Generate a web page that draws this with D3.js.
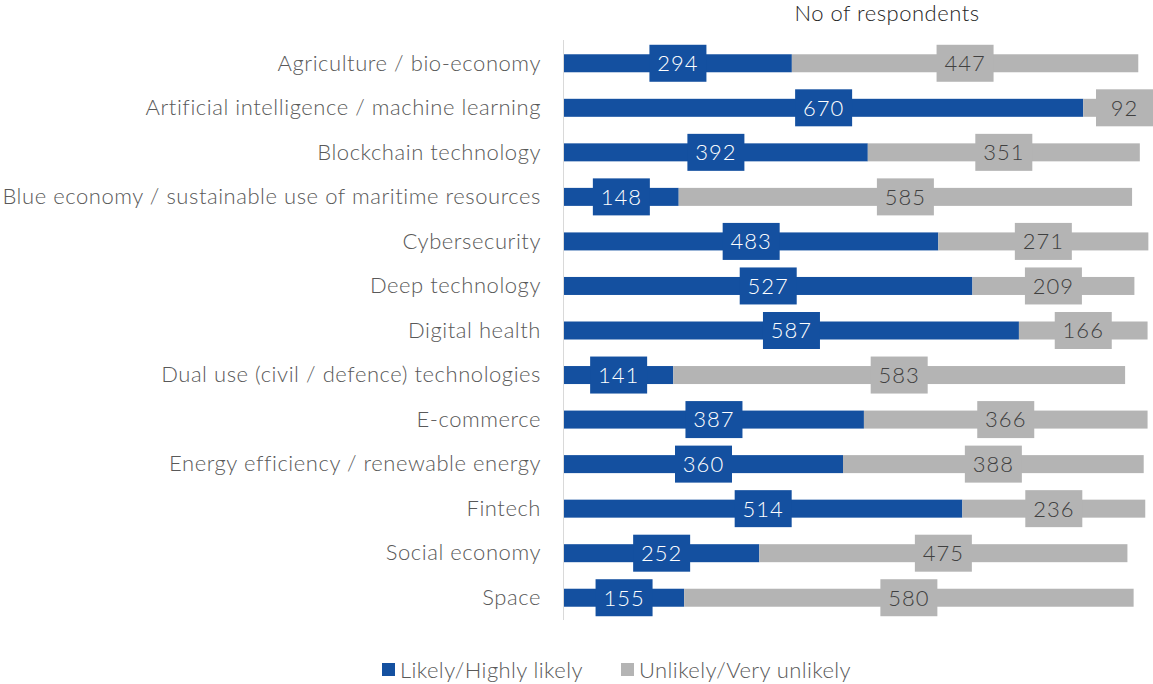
<!DOCTYPE html>
<html><head><meta charset="utf-8">
<script src="https://cdn.jsdelivr.net/npm/d3@7"></script>
<style>body{margin:0;background:#fff;} text{font-family:"Lato",sans-serif;font-weight:300;}</style>
</head><body><svg id="c" width="1153" height="684"></svg>
<script>
const categories = ["Agriculture / bio-economy","Artificial intelligence / machine learning","Blockchain technology","Blue economy / sustainable use of maritime resources","Cybersecurity","Deep technology","Digital health","Dual use (civil / defence) technologies","E-commerce","Energy efficiency / renewable energy","Fintech","Social economy","Space"];
const likely = [294,670,392,148,483,527,587,141,387,360,514,252,155];
const unlikely = [447,92,351,585,271,209,166,583,366,388,236,475,580];
const seriesNames = ["Likely/Highly likely","Unlikely/Very unlikely"];
const colors = ["#1450a0","#b4b4b4"];
const labelColors = ["#ffffff","#404040"];

const svg = d3.select("#c");
const x = d3.scaleLinear().domain([0,760]).range([564,1153]);
const y = d3.scaleBand().domain(categories).range([41,620]).paddingInner(0.6).paddingOuter(0.3);

svg.append("line").attr("x1",563.5).attr("x2",563.5).attr("y1",40).attr("y2",620).attr("stroke","#d9d9d9").attr("stroke-width",1);

const rows = categories.map((c,i)=>({c, segs:[{s:0,x0:0,x1:likely[i],v:likely[i]},{s:1,x0:likely[i],x1:likely[i]+unlikely[i],v:unlikely[i]}]}));
const g = svg.selectAll("g.row").data(rows).join("g").attr("class","row");
const bh = 18;
g.each(function(r){
  const gg = d3.select(this);
  const cy = y(r.c)+y.bandwidth()/2;
  r.segs.forEach(s=>{
    gg.append("rect").attr("x",x(s.x0)).attr("y",cy-bh/2).attr("width",x(s.x1)-x(s.x0)).attr("height",bh).attr("fill",colors[s.s]);
  });
  r.segs.forEach(s=>{
    let mx = (x(s.x0)+x(s.x1))/2;
    if (x(s.x1) > 1153) mx = 1153-28.5;
    gg.append("rect").attr("x",mx-28.5).attr("y",cy-18.5).attr("width",57).attr("height",37).attr("fill",colors[s.s]);
    gg.append("text").attr("x",mx).attr("y",cy).attr("dy","0.36em").attr("text-anchor","middle")
      .attr("font-size",22).attr("letter-spacing",1).attr("fill",labelColors[s.s]).text(s.v);
  });
  gg.append("text").attr("x",541).attr("y",cy).attr("dy","0.33em").attr("text-anchor","end")
    .attr("font-size",22).attr("letter-spacing",0.55).attr("fill","#595959").text(r.c);
});

svg.append("text").attr("x",887).attr("y",21).attr("text-anchor","middle").attr("font-size",22).attr("letter-spacing",0.5).attr("fill","#262626").text("No of respondents");

const lg = [{x:382},{x:621}];
seriesNames.forEach((n,i)=>{
  svg.append("rect").attr("x",lg[i].x).attr("y",663).attr("width",13).attr("height",13).attr("fill",colors[i]);
  svg.append("text").attr("x",lg[i].x+18).attr("y",670).attr("dy","0.35em").attr("font-size",22).attr("letter-spacing",0.4).attr("fill","#595959").text(n);
});
</script></body></html>
